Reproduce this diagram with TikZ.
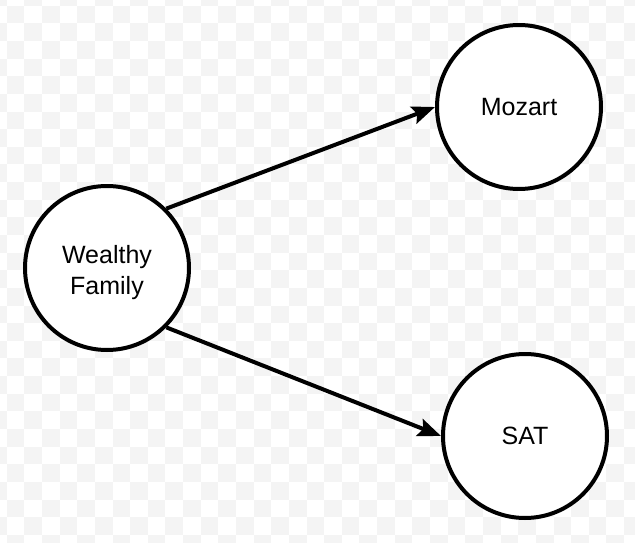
\documentclass[tikz,border=0pt]{standalone}
\usepackage{fontspec}
\setmainfont{Liberation Sans}
\usetikzlibrary{arrows.meta}
\definecolor{checkgray}{HTML}{F4F4F4}
\begin{document}
\begin{tikzpicture}[x=1pt,y=-1pt,
  varnode/.style={circle,draw=black,line width=4pt,fill=white,minimum size=164pt,inner sep=0pt,align=center,font=\fontsize{25}{31}\selectfont},
  edge/.style={line width=4pt,-{Stealth[length=23pt,width=18pt,inset=4pt]}}]
\useasboundingbox (0,0) rectangle (635,543);
\fill[white] (0,0) rectangle (635,543);
\begin{scope}
\clip (0,0) rectangle (635,543);
\foreach \i in {-1,...,36}{
  \foreach \j in {-1,...,31}{
    \pgfmathtruncatemacro\myparity{mod(\i+\j+100,2)}
    \ifnum\myparity=0
      \fill[checkgray] ({6.67+17.64*\i},{5.67+17.64*\j}) rectangle ++(17.64,17.64);
    \fi
  }
}
\end{scope}
\node[varnode] (wealthy) at (107,268) {\rule{0pt}{28pt}Wealthy\\Family};
\node[varnode] (mozart) at (519,107) {Mozart};
\node[varnode] (sat) at (525,436) {SAT};
\draw[edge] (wealthy.45) -- (mozart.west);
\draw[edge] (wealthy.-45) -- (sat.west);
\end{tikzpicture}
\end{document}
